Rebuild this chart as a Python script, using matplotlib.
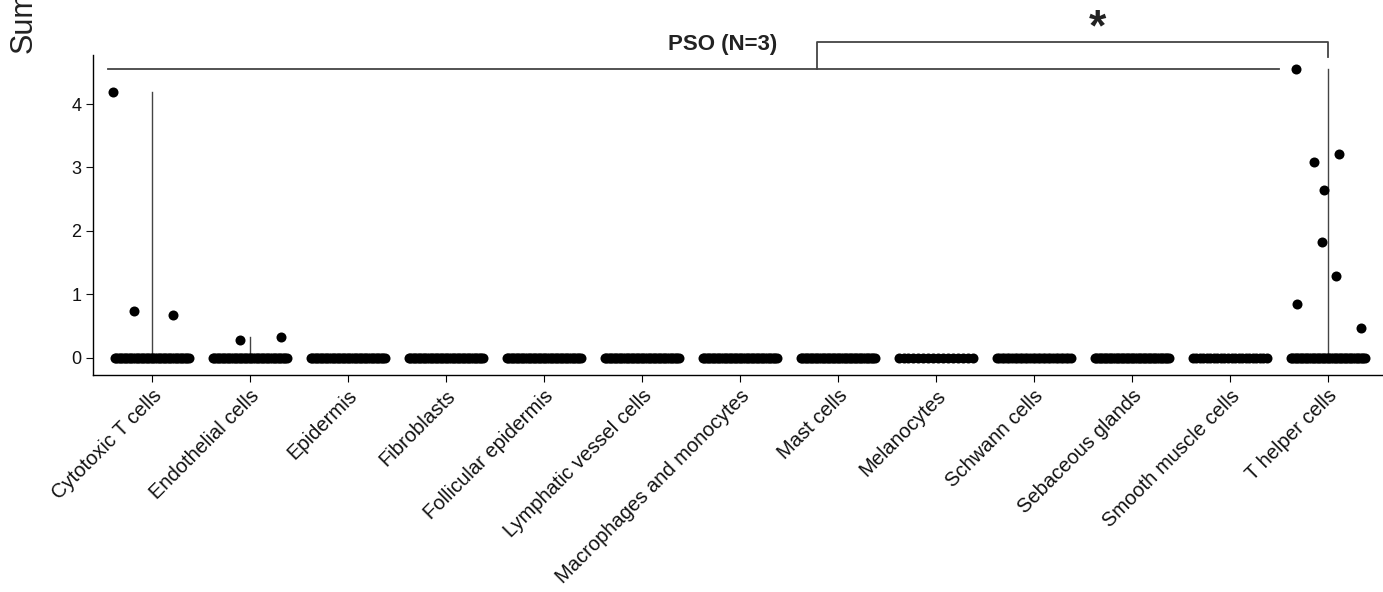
import matplotlib
matplotlib.use('Agg')
import numpy as np
import matplotlib.pyplot as plt

plt.rcParams['font.family'] = ['Liberation Sans', 'DejaVu Sans']

# cell types on the x axis
categories = ['Cytotoxic T cells', 'Endothelial cells', 'Epidermis', 'Fibroblasts',
              'Follicular epidermis', 'Lymphatic vessel cells', 'Macrophages and monocytes',
              'Mast cells', 'Melanocytes', 'Schwann cells', 'Sebaceous glands',
              'Smooth muscle cells', 'T helper cells']

# number of samples with value 0 per cell type
zero_counts = [45, 45, 45, 45, 45, 45, 45, 45, 16, 30, 45, 22, 45]

# non-zero values
cyto_vals = [4.19, 0.745, 0.67]
endo_vals = [0.29, 0.33]
th_vals = [4.55, 3.09, 3.22, 2.64, 1.83, 1.29, 0.85, 0.47]
nonzero = {0: cyto_vals, 1: endo_vals, 12: th_vals}

# horizontal jitter of the non-zero points (positions only)
jitter = {0: [-0.40, -0.185, 0.213],
          1: [-0.097, 0.319],
          12: [-0.32, -0.14, 0.116, -0.04, -0.054, 0.079, -0.31, 0.334]}

fig = plt.figure(figsize=(13.83, 5.92), dpi=100)
ax = fig.add_axes([0.06725, 0.3666, 0.9318, 0.5405])

line_col = '#444444'
dot_size = 52

for i, cat in enumerate(categories):
    vals = [0.0] * zero_counts[i] + nonzero.get(i, [])
    offs = list(np.linspace(-0.38, 0.38, zero_counts[i])) + jitter.get(i, [])
    ax.scatter(np.array(offs) + i, vals, s=dot_size, color='black', linewidths=0, zorder=3)
    # range line from 0 up to the maximum
    top = max(vals)
    if top > 0:
        ax.plot([i, i], [0, top], color=line_col, lw=1.0, zorder=2)

# significance annotations
ax.plot([-0.447, 11.50], [4.55, 4.55], color=line_col, lw=1.3, clip_on=False)
ax.plot([6.79, 6.79, 12.0, 12.0], [4.55, 4.976, 4.976, 4.74], color=line_col, lw=1.3,
        clip_on=False)
ax.text(9.645, 5.0, '*', fontsize=32, fontweight='bold', ha='center', va='baseline',
        color='#222222')
ax.text(5.82, 4.94, 'PSO (N=3)', fontsize=16, fontweight='bold', ha='center', va='center',
        color='#222222')

ax.set_xlim(-0.6, 12.55)
ax.set_ylim(-0.268, 4.772)
ax.set_xticks(range(len(categories)))
ax.set_xticklabels(categories, rotation=45, ha='right', va='top', rotation_mode='anchor',
                   fontsize=14.5, color='#111111')
ax.set_yticks([0, 1, 2, 3, 4])
ax.tick_params(axis='y', labelsize=13, colors='#111111', length=5, width=0.8)
ax.tick_params(axis='x', length=5, width=0.8, pad=3)
for s in ['top', 'right']:
    ax.spines[s].set_visible(False)
for s in ['left', 'bottom']:
    ax.spines[s].set_linewidth(1.0)

fig.text(24 / 1383, 1 - 53 / 592, 'Sum', rotation=90, fontsize=22, ha='center', va='bottom',
         color='#222222')

fig.savefig('out.png', dpi=100)
